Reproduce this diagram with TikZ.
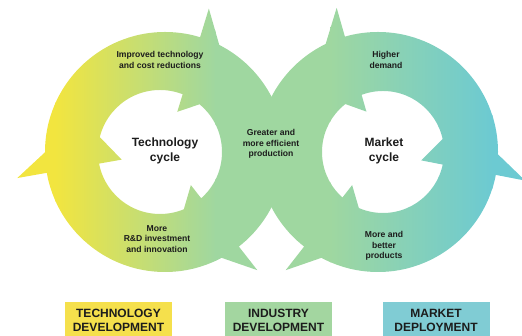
\documentclass[tikz,border=0pt]{standalone}
\usepackage{fontspec}
\setmainfont{Liberation Sans}
\definecolor{cyel}{HTML}{F2E53F}
\definecolor{cgrn}{HTML}{9FD7A0}
\definecolor{ctel}{HTML}{6CCAD2}
\definecolor{byel}{HTML}{F5E04C}
\definecolor{bgrn}{HTML}{A3D6A0}
\definecolor{btel}{HTML}{80CCD4}
\definecolor{txt}{HTML}{1C1C1C}
\begin{document}
\begin{tikzpicture}[x=1pt,y=1pt,
  lbl/.style={font=\bfseries\fontsize{8.6}{10.4}\selectfont, align=center, text=txt, inner sep=0pt},
  cyc/.style={font=\bfseries\fontsize{12}{15}\selectfont, align=center, text=txt, inner sep=0pt},
  legbox/.style={minimum width=107pt, minimum height=36pt, inner sep=0pt, align=center,
    font=\bfseries\fontsize{12}{14}\selectfont, text=txt}]
\useasboundingbox (0,0) rectangle (522,336);
\clip (0,0) rectangle (522,336);
\def\shadefill{%
  \fill[cyel] (0,0) rectangle (56,336);
  \shade[left color=cyel, right color=cgrn] (55,0) rectangle (216,336);
  \fill[cgrn] (215,0) rectangle (331,336);
  \shade[left color=cgrn, right color=ctel] (330,0) rectangle (493,336);
  \fill[ctel] (492,0) rectangle (522,336);}
% left ring (clockwise arrows)
\begin{scope}
  \clip[shift={(165,184)}]
    (120,0) arc[start angle=0, end angle=360, radius=120] -- cycle
    (57,0) arc[start angle=360, end angle=0, radius=62] -- cycle
    (73:150) -- (73:42) -- (41:90) -- cycle
    (190:150) -- (190:44) -- (158:90) -- cycle
    (308:150) -- (308:42) -- (276:90) -- cycle;
  \shadefill
\end{scope}
% right ring (counter-clockwise arrows)
\begin{scope}
  \clip[shift={(378,184)}]
    (120,0) arc[start angle=0, end angle=360, radius=120] -- cycle
    (66,0) arc[start angle=360, end angle=0, radius=61] -- cycle
    (106:150) -- (138:90) -- (106:42) -- cycle
    (349:150) -- (21:90) -- (349:44) -- cycle
    (232:150) -- (264:90) -- (232:42) -- cycle;
  \shadefill
\end{scope}
% labels
\node[lbl] (imp) at (160,276) {Improved technology\\and cost reductions};
\node[lbl] (high) at (386,276) {Higher\\demand};
\node[cyc] (tcyc) at (165,185.5) {Technology\\cycle};
\node[lbl] (grt) at (271,192) {Greater and\\more efficient\\production};
\node[cyc] (mcyc) at (384,185.5) {Market\\cycle};
\node[lbl] (rnd) at (157,97) {More\\R\&D investment\\and innovation};
\node[lbl] (prod) at (384,90) {More and\\better\\products};
% legend boxes
\node[legbox, fill=byel] (tdev) at (118.5,16) {TECHNOLOGY\\DEVELOPMENT};
\node[legbox, fill=bgrn] (idev) at (278.5,16) {INDUSTRY\\DEVELOPMENT};
\node[legbox, fill=btel] (mdep) at (436,16) {MARKET\\DEPLOYMENT};
\end{tikzpicture}
\end{document}
